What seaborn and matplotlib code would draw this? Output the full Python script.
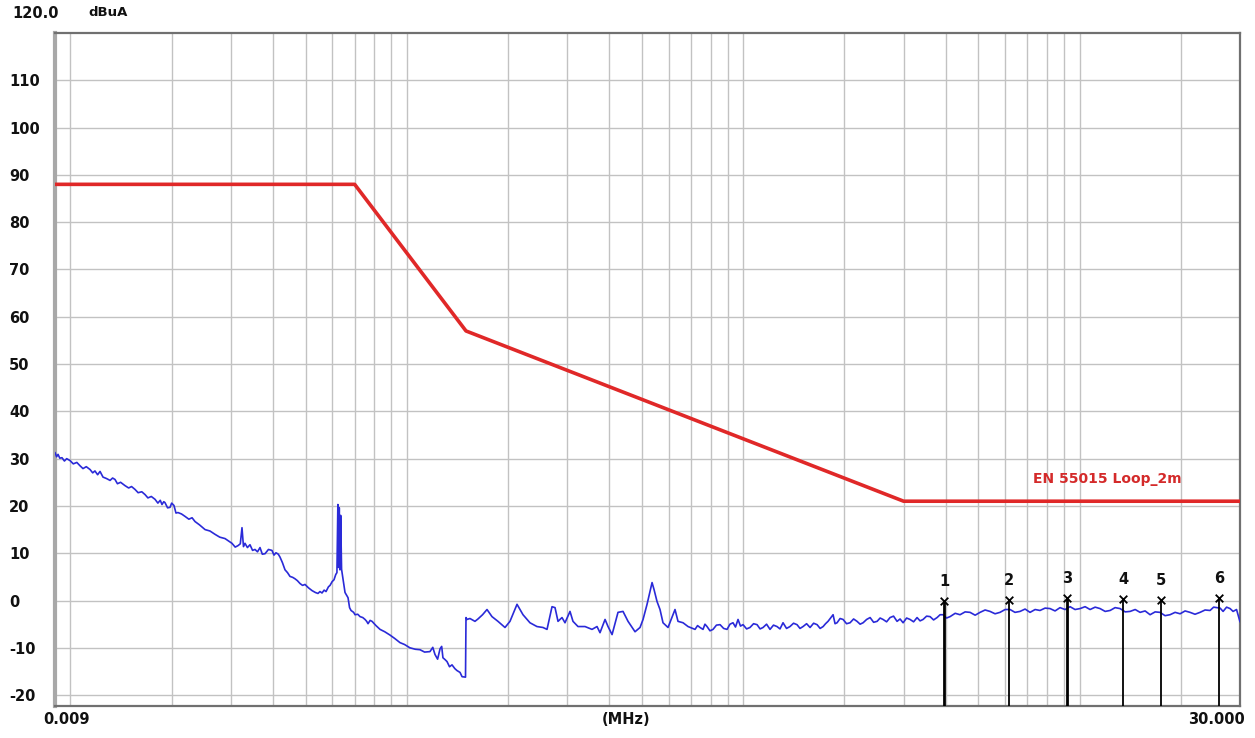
import matplotlib
matplotlib.use("Agg")
import matplotlib.pyplot as plt
import seaborn as sns
import pandas as pd
from matplotlib.ticker import LogLocator, NullFormatter

# ---------------- data ----------------
# measured trace, 9 kHz .. 150 kHz
freq_low_mhz = [
    0.00900, 0.00910, 0.00919, 0.00930, 0.00944, 0.00960, 0.00975, 0.00997,
    0.01020, 0.01045, 0.01068, 0.01090, 0.01115, 0.01144, 0.01165, 0.01183,
    0.01205, 0.01225, 0.01250, 0.01280, 0.01312, 0.01335, 0.01357, 0.01380,
    0.01410, 0.01453, 0.01490, 0.01520, 0.01556, 0.01590, 0.01630, 0.01667,
    0.01700, 0.01740, 0.01785, 0.01820, 0.01850, 0.01872, 0.01895, 0.01911,
    0.01945, 0.01978, 0.02000, 0.02032, 0.02060, 0.02089, 0.02140, 0.02191,
    0.02250, 0.02300, 0.02347, 0.02420, 0.02514, 0.02600, 0.02691, 0.02780,
    0.02882, 0.02950, 0.03022, 0.03090, 0.03149, 0.03200, 0.03237, 0.03270,
    0.03304, 0.03360, 0.03419, 0.03480, 0.03538, 0.03600, 0.03662, 0.03720,
    0.03790, 0.03880, 0.03974, 0.04030, 0.04084, 0.04150, 0.04198, 0.04270,
    0.04345, 0.04420, 0.04496, 0.04580, 0.04653, 0.04730, 0.04815, 0.04900,
    0.04983, 0.05100, 0.05229, 0.05350, 0.05446, 0.05520, 0.05598, 0.05680,
    0.05754, 0.05850, 0.05914, 0.06000, 0.06078, 0.06150, 0.06200, 0.06240,
    0.06270, 0.06300, 0.06330, 0.06360, 0.06400, 0.06480, 0.06553, 0.06689,
    0.06760, 0.06828, 0.06950, 0.07018, 0.07150, 0.07262, 0.07400, 0.07515,
    0.07600, 0.07671, 0.07780, 0.07884, 0.08100, 0.08328, 0.08600, 0.08914,
    0.09200, 0.09546, 0.09850, 0.1022, 0.1060, 0.1095, 0.1130, 0.1172,
    0.1195, 0.1213, 0.1235, 0.1256, 0.1270, 0.1281, 0.1300, 0.1317,
    0.1340, 0.1363, 0.1390, 0.1410, 0.1440, 0.1460, 0.1495,
]
level_low_dbua = [
    31.3, 30.4, 30.9, 30.1, 30.2, 29.5, 30.0, 29.6,
    28.9, 29.2, 28.5, 27.9, 28.3, 27.7, 27.0, 27.4,
    26.6, 27.3, 26.1, 25.8, 25.4, 25.9, 25.6, 24.7,
    25.0, 24.3, 23.8, 24.1, 23.5, 22.8, 23.0, 22.4,
    21.7, 22.0, 21.4, 20.6, 21.2, 20.3, 20.9, 20.7,
    19.6, 19.7, 20.6, 20.1, 18.5, 18.6, 18.3, 17.8,
    17.2, 17.5, 16.7, 16.0, 15.0, 14.7, 14.0, 13.4,
    13.1, 12.6, 12.1, 11.3, 11.6, 12.0, 15.4, 11.4,
    12.1, 11.2, 11.8, 10.6, 10.8, 10.3, 11.2, 9.8,
    9.9, 10.8, 10.6, 9.6, 10.1, 9.8, 9.2, 8.0,
    6.5, 5.9, 5.1, 4.9, 4.6, 4.2, 3.6, 3.2,
    3.4, 2.7, 2.1, 1.7, 1.5, 1.9, 1.6, 2.2,
    1.9, 2.9, 3.2, 4.0, 4.4, 5.5, 5.9, 20.3,
    7.0, 19.6, 6.5, 18.0, 6.6, 4.0, 1.7, 0.6,
    -1.5, -2.1, -2.5, -3.0, -2.9, -3.4, -3.6, -4.0,
    -4.4, -4.9, -4.2, -4.4, -5.3, -6.1, -6.6, -7.3,
    -8.0, -8.9, -9.3, -10.0, -10.3, -10.4, -10.9, -10.8,
    -9.9, -11.4, -12.4, -10.2, -9.7, -12.1, -12.5, -12.9,
    -14.0, -13.6, -14.4, -14.8, -15.2, -16.1, -16.2,
]

# measured trace, 150 kHz .. 0.72 MHz
freq_mid_mhz = [
    0.1500, 0.1510, 0.1541, 0.1595, 0.1628, 0.1680, 0.1732, 0.1792,
    0.1867, 0.1959, 0.2027, 0.2127, 0.2216, 0.2324, 0.2438, 0.2541,
    0.2612, 0.2703, 0.2759, 0.2816, 0.2894, 0.2954, 0.3057, 0.3120,
    0.3229, 0.3388, 0.3554, 0.3678, 0.3754, 0.3886, 0.3966, 0.4077,
    0.4246, 0.4394, 0.4548, 0.4771, 0.4937, 0.5040, 0.5180, 0.5361,
    0.5435, 0.5546, 0.5661, 0.5778, 0.5980, 0.6273, 0.6403, 0.6627,
    0.6858,
]
level_mid_dbua = [
    -3.6, -4.0, -3.8, -4.4, -3.9, -3.0, -1.9, -3.4,
    -4.4, -5.7, -4.4, -0.8, -3.0, -4.7, -5.5, -5.7,
    -6.1, -1.3, -1.5, -4.4, -3.6, -4.7, -2.3, -4.4,
    -5.5, -5.5, -6.1, -5.5, -6.8, -4.0, -5.5, -7.2,
    -2.5, -2.3, -4.4, -6.6, -5.7, -4.0, -0.8, 3.8,
    2.3, -0.2, -1.9, -4.7, -5.7, -1.9, -4.4, -4.7,
    -5.5,
]

# measured trace, 0.72 MHz .. 30 MHz
freq_high_mhz = [
    0.7194, 0.7320, 0.7444, 0.7598, 0.7700, 0.7810, 0.7970, 0.8138,
    0.8330, 0.8539, 0.8750, 0.8956, 0.9140, 0.9330, 0.9490, 0.9656,
    0.9820, 0.9993, 1.024, 1.048, 1.074, 1.100, 1.123, 1.146,
    1.174, 1.202, 1.231, 1.261, 1.287, 1.314, 1.346, 1.378,
    1.412, 1.446, 1.476, 1.507, 1.544, 1.581, 1.620, 1.659,
    1.694, 1.729, 1.758, 1.788, 1.851, 1.876, 1.902, 1.942,
    1.982, 2.030, 2.079, 2.130, 2.181, 2.227, 2.273, 2.329,
    2.385, 2.443, 2.502, 2.554, 2.606, 2.670, 2.734, 2.800,
    2.868, 2.928, 2.989, 3.062, 3.135, 3.212, 3.289, 3.358,
    3.427, 3.511, 3.595, 3.683, 3.772, 3.851, 3.930, 4.025,
    4.123, 4.270, 4.414, 4.570, 4.727, 4.895, 5.062, 5.240,
    5.420, 5.610, 5.803, 6.010, 6.216, 6.430, 6.656, 6.890,
    7.127, 7.380, 7.631, 7.900, 8.173, 8.460, 8.752, 9.060,
    9.372, 9.700, 10.04, 10.39, 10.75, 11.13, 11.51, 11.92,
    12.33, 12.76, 13.20, 13.67, 14.14, 14.64, 15.14, 15.67,
    16.21, 16.78, 17.35, 17.96, 18.58, 19.24, 19.91, 20.60,
    21.31, 22.05, 22.82, 23.62, 24.44, 25.04, 25.64, 26.18,
    26.72, 27.37, 28.03, 28.61, 29.30, 30.00,
]
level_high_dbua = [
    -6.1, -5.3, -5.7, -6.1, -5.0, -5.5, -6.4, -6.1,
    -5.2, -5.1, -5.9, -6.1, -5.0, -4.7, -5.6, -4.0,
    -5.4, -5.1, -6.0, -5.7, -4.9, -5.1, -6.0, -5.7,
    -5.0, -6.1, -5.2, -5.5, -6.0, -4.7, -5.9, -5.5,
    -4.8, -5.1, -5.9, -5.5, -4.9, -5.7, -4.8, -5.1,
    -5.9, -5.5, -4.9, -4.4, -3.0, -4.9, -4.7, -3.8,
    -4.0, -4.9, -4.7, -3.9, -4.4, -5.0, -4.7, -4.0,
    -3.6, -4.6, -4.4, -3.7, -4.0, -4.5, -3.6, -3.3,
    -4.4, -3.9, -4.7, -3.7, -4.0, -4.5, -3.6, -4.3,
    -4.0, -3.3, -3.4, -4.1, -3.6, -3.0, -3.0, -3.7,
    -3.4, -2.7, -3.0, -2.4, -2.5, -3.1, -2.5, -2.0,
    -2.3, -2.8, -2.5, -1.9, -1.9, -2.5, -2.3, -1.8,
    -2.5, -1.9, -2.1, -1.6, -1.7, -2.2, -1.5, -1.9,
    -1.3, -1.9, -1.7, -1.3, -1.9, -1.4, -1.7, -2.3,
    -2.1, -1.5, -1.7, -2.4, -2.3, -1.9, -2.5, -2.2,
    -3.0, -2.4, -2.5, -3.2, -3.0, -2.5, -2.8, -2.2,
    -2.5, -2.9, -2.5, -2.0, -2.1, -1.4, -1.5, -1.6,
    -2.3, -1.4, -1.7, -2.3, -1.9, -4.5,
]

limit_freq_mhz = [0.009, 0.07, 0.15, 3.0, 30.0]
limit_dbua = [88, 88, 57, 21, 21]
limit_name = "EN 55015 Loop_2m"

marker_ids = ["1", "2", "3", "4", "5", "6"]
marker_freq_mhz = [3.955, 6.17, 9.18, 13.47, 17.47, 25.98]
marker_dbua = [-0.2, 0.2, 0.6, 0.4, 0.2, 0.6]

y_ticks = [-20, -10, 0, 10, 20, 30, 40, 50, 60, 70, 80, 90, 100, 110]
y_top_label = "120.0"
y_unit = "dBuA"
x_left_label = "0.009"
x_right_label = "30.000"
x_unit = "(MHz)"

# ---------------- styling ----------------
sns.set_style("white")
plt.rcParams["font.family"] = ["DejaVu Sans"]

W, H = 1255, 738
fig = plt.figure(figsize=(W / 100, H / 100), dpi=100)
fig.patch.set_facecolor("white")
ax = fig.add_axes([55 / W, 32 / H, 1185 / W, 673 / H])

Y_MIN, Y_MAX = -22.3, 120

trace_df = pd.DataFrame({
    "freq": freq_low_mhz + freq_mid_mhz + freq_high_mhz,
    "level": level_low_dbua + level_mid_dbua + level_high_dbua,
})
limit_df = pd.DataFrame({"freq": limit_freq_mhz, "level": limit_dbua})

sns.lineplot(data=trace_df, x="freq", y="level", ax=ax, color="#2a2ad8",
             lw=1.2, sort=False, estimator=None, zorder=3)
sns.lineplot(data=limit_df, x="freq", y="level", ax=ax, color="#e02828",
             lw=2.6, sort=False, estimator=None, zorder=4)

ax.set_xscale("log")
ax.set_xlim(0.009, 30)
ax.set_ylim(Y_MIN, Y_MAX)
ax.set_xlabel("")
ax.set_ylabel("")

ax.xaxis.set_major_locator(LogLocator(base=10, numticks=12))
ax.xaxis.set_minor_locator(LogLocator(base=10, subs=range(2, 10), numticks=12))
ax.xaxis.set_major_formatter(NullFormatter())
ax.xaxis.set_minor_formatter(NullFormatter())
ax.set_yticks(y_ticks)
ax.set_yticklabels([str(v) for v in y_ticks], fontsize=10.5,
                   fontweight="bold", color="#111111")
ax.tick_params(axis="both", which="both", length=0)
ax.tick_params(axis="y", pad=33)
for lab in ax.get_yticklabels():
    lab.set_horizontalalignment("left")

ax.grid(True, which="both", axis="x", color="#c2c2c2", lw=1.0)
ax.grid(True, which="major", axis="y", color="#c2c2c2", lw=1.0)
ax.set_axisbelow(True)

for side in ["top", "right", "bottom"]:
    ax.spines[side].set_color("#707070")
    ax.spines[side].set_linewidth(1.6)
ax.spines["left"].set_color("#a8a8a8")
ax.spines["left"].set_linewidth(3.0)

# markers
marker_lw = [2.0, 1.3, 2.0, 1.3, 1.3, 1.3]
ax.vlines(marker_freq_mhz, Y_MIN, marker_dbua, colors="black",
          linewidths=marker_lw, zorder=5)
ax.scatter(marker_freq_mhz, marker_dbua, marker="x", s=30, c="black",
           linewidths=1.3, zorder=6)
for mid, f, v in zip(marker_ids, marker_freq_mhz, marker_dbua):
    ax.annotate(mid, (f, v), xytext=(0, 12), textcoords="offset pixels",
                ha="center", va="bottom", fontsize=10.5, fontweight="bold",
                color="#111111", zorder=7)

ax.text(12.07, 25.6, limit_name, color="#d42a2a", fontsize=10,
        fontweight="bold", ha="center", va="center", zorder=7)

# outer labels
fig.text(12 / W, 1 - 13 / H, y_top_label, ha="left", va="center",
         fontsize=10.5, fontweight="bold", color="#111111")
fig.text(88 / W, 1 - 13 / H, y_unit, ha="left", va="center",
         fontsize=9.5, fontweight="bold", color="#111111")
fig.text(67 / W, 1 - 720 / H, x_left_label, ha="center", va="center",
         fontsize=10.5, fontweight="bold", color="#111111")
fig.text(626 / W, 1 - 720 / H, x_unit, ha="center", va="center",
         fontsize=10.5, fontweight="bold", color="#111111")
fig.text(1245 / W, 1 - 720 / H, x_right_label, ha="right", va="center",
         fontsize=10.5, fontweight="bold", color="#111111")

fig.savefig("out.png", dpi=100, facecolor="white")
